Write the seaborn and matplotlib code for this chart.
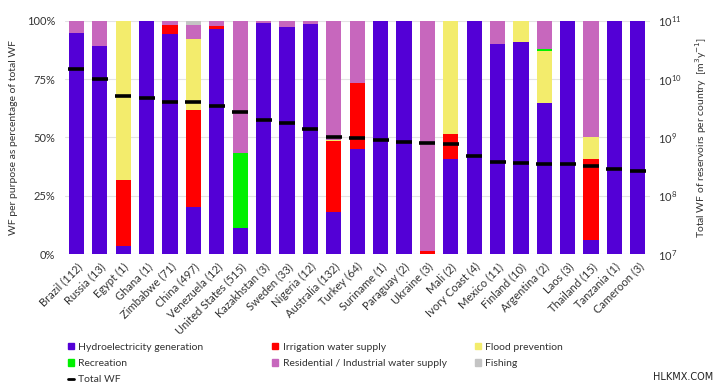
import matplotlib
matplotlib.use("Agg")
import matplotlib.pyplot as plt
from matplotlib.patches import Patch
from matplotlib.lines import Line2D
import seaborn as sns
import pandas as pd
import numpy as np

countries = ["Brazil (112)", "Russia (13)", "Egypt (1)", "Ghana (1)", "Zimbabwe (71)", "China (497)",
             "Venezuela (12)", "United States (515)", "Kazakhstan (3)", "Sweden (33)", "Nigeria (12)",
             "Australia (132)", "Turkey (64)", "Suriname (1)", "Paraguay (2)", "Ukraine (3)", "Mali (2)",
             "Ivory Coast (4)", "Mexico (11)", "Finland (10)", "Argentina (2)", "Laos (3)",
             "Thailand (15)", "Tanzania (1)", "Cameroon (3)"]

# share of the total WF per purpose, in %
hydro = [94.9, 89.3, 3.6, 100, 94.3, 20.1, 96.4, 11.3, 98.9, 97.4, 98.6, 18.1, 45.1,
         100, 100, 0, 40.9, 100, 89.9, 90.7, 64.9, 100, 6.0, 100, 100]
irrigation = [0, 0, 28.0, 0, 4.0, 41.5, 1.5, 0, 0, 0, 0, 30.5, 28.2,
              0, 0, 1.4, 10.7, 0, 0, 0, 0, 0, 34.7, 0, 0]
flood = [0, 0, 68.4, 0, 0, 30.4, 0, 0, 0, 0, 0, 0.5, 0,
         0, 0, 0, 48.4, 0, 0, 9.3, 22.2, 0, 9.3, 0, 0]
recreation = [0, 0, 0, 0, 0, 0, 0, 31.9, 0, 0, 0, 0, 0,
              0, 0, 0, 0, 0, 0, 0, 0.6, 0, 0, 0, 0]
residential = [5.1, 10.7, 0, 0, 1.7, 6.2, 2.1, 56.8, 1.1, 2.6, 1.4, 50.9, 26.7,
               0, 0, 98.6, 0, 0, 10.1, 0, 12.3, 0, 50.0, 0, 0]
fishing = [0, 0, 0, 0, 0, 1.8, 0, 0, 0, 0, 0, 0, 0,
           0, 0, 0, 0, 0, 0, 0, 0, 0, 0, 0, 0]

# total WF of reservoirs per country, m3/y
total_wf = [1.5e10, 9.9e9, 5.2e9, 4.8e9, 4.1e9, 4.0e9, 3.5e9, 2.7e9, 2.0e9, 1.8e9, 1.4e9,
            1.03e9, 9.9e8, 9.0e8, 8.3e8, 7.9e8, 7.6e8, 4.9e8, 3.8e8, 3.6e8, 3.5e8, 3.5e8,
            3.2e8, 2.9e8, 2.7e8]

purposes = ["Hydroelectricity generation", "Irrigation water supply", "Flood prevention",
            "Recreation", "Residential / Industrial water supply", "Fishing"]
colors = ["#5300d6", "#ff0000", "#f3ec6c", "#00f000", "#c767bd", "#c4c4c4"]

sns.set_style("white")
plt.rcParams["font.family"] = ["Lato", "DejaVu Sans"]

df = pd.DataFrame({"country": countries, "Hydroelectricity generation": hydro,
                   "Irrigation water supply": irrigation, "Flood prevention": flood,
                   "Recreation": recreation, "Residential / Industrial water supply": residential,
                   "Fishing": fishing})
cum = df[purposes].cumsum(axis=1)

fig = plt.figure(figsize=(7.22, 3.85), dpi=100)
ax = fig.add_axes([0.0897, 0.34, 0.810, 0.606])

# stacked bars: draw the cumulative tops from the highest layer down
for p, c in zip(purposes[::-1], colors[::-1]):
    sns.barplot(x=df["country"], y=cum[p], color=c, width=0.65, saturation=1,
                ax=ax, edgecolor="none")

ax.set_ylim(0, 100)
ax.set_xlim(-0.5, len(countries) - 0.5)
ax.set_yticks([0, 25, 50, 75, 100])
ax.set_yticklabels(["0%", "25%", "50%", "75%", "100%"], fontsize=8, color="#333333")
ax.set_axisbelow(True)
ax.yaxis.grid(True, color="#e3e3e3", linewidth=0.8)
ax.set_xlabel("")
ax.set_ylabel("WF per purpose as percentage of total WF", fontsize=7.5, color="#333333",
              labelpad=6)
ax.tick_params(axis="y", length=0, pad=7)
ax.tick_params(axis="x", length=0, pad=5)
plt.setp(ax.get_xticklabels(), rotation=45, ha="right", rotation_mode="anchor",
         fontsize=8, color="#333333")
for s in ax.spines.values():
    s.set_visible(False)

ax2 = ax.twinx()
sns.scatterplot(x=np.arange(len(countries)), y=total_wf, ax=ax2, marker="_", s=125,
                linewidth=2.6, color="black", zorder=5)
ax2.set_yscale("log")
ax2.set_ylim(1e7, 1e11)
ax2.set_yticks([1e7, 1e8, 1e9, 1e10, 1e11])
ax2.minorticks_off()
ax2.tick_params(axis="y", length=0, labelsize=8, colors="#333333", pad=6)
ax2.set_ylabel("Total WF of reservoirs per country  [m$^3$y$^{-1}$]", fontsize=7.5,
               color="#333333", labelpad=8)
for s in ax2.spines.values():
    s.set_visible(False)

# legend in three columns below the chart
sq = dict(handlelength=0.6, handleheight=0.6, handletextpad=0.4, frameon=False,
          fontsize=7.5, labelspacing=0.7, borderaxespad=0, borderpad=0)
col1 = [Patch(color=colors[0], label=purposes[0]), Patch(color=colors[3], label=purposes[3]),
        Line2D([], [], color="black", linewidth=2, label="Total WF")]
col2 = [Patch(color=colors[1], label=purposes[1]), Patch(color=colors[4], label=purposes[4])]
col3 = [Patch(color=colors[2], label=purposes[2]), Patch(color=colors[5], label=purposes[5])]
for handles, x0 in [(col1, 0.094), (col2, 0.377), (col3, 0.658)]:
    leg = fig.legend(handles=handles, loc="upper left", bbox_to_anchor=(x0, 0.11), **sq)
    for t in leg.get_texts():
        t.set_color("#333333")

fig.text(0.946, 0.021, "HLKMX.COM", fontsize=7, ha="center", va="center",
         family="DejaVu Sans", color="#222222")

fig.savefig("out.png", dpi=100)
